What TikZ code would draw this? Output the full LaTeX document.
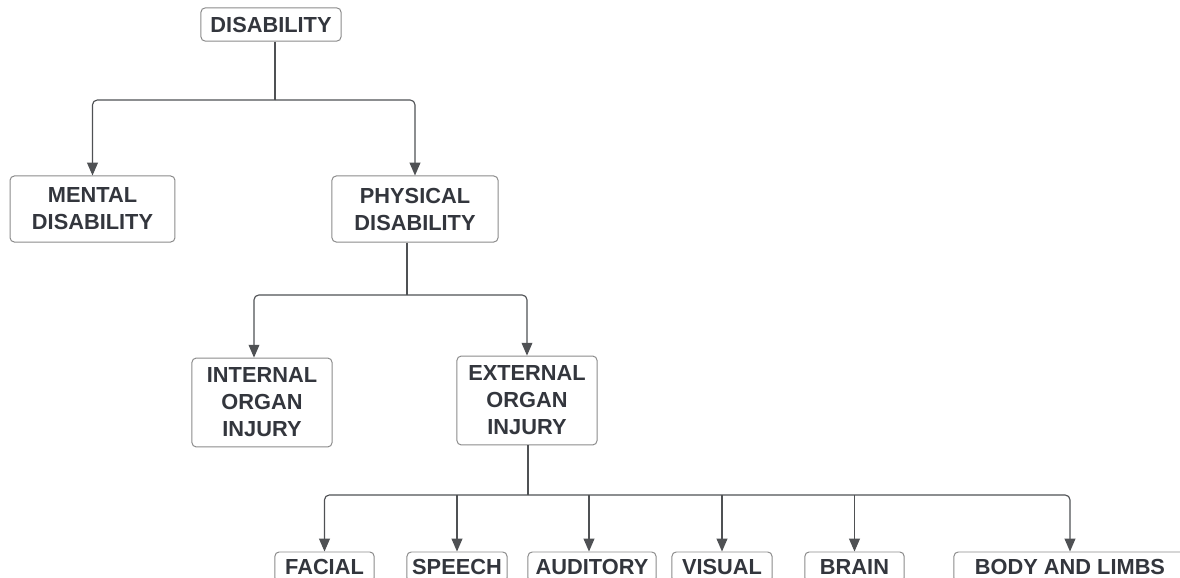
\documentclass[tikz,border=0pt]{standalone}
\usepackage{fontspec}
\setmainfont{Liberation Sans}
\usetikzlibrary{arrows.meta}
\definecolor{boxline}{HTML}{8A8A8A}
\definecolor{wire}{HTML}{4F5154}
\definecolor{ink}{HTML}{33363D}
\begin{document}
\begin{tikzpicture}[
    x=0.025cm, y=-0.025cm,
    box/.style={rectangle, draw=boxline, line width=0.7pt, rounded corners=3pt,
        align=center, inner sep=0pt, text=ink,
        font=\fontsize{15.5}{19.2}\selectfont\bfseries},
    arrow/.style={-{Triangle[length=0.32cm, width=0.27cm]}, draw=wire,
        line width=0.8pt, rounded corners=0.12cm},
    wireline/.style={draw=wire, line width=0.8pt}
]
\useasboundingbox (0,0) rectangle (1180,578);
\clip (0,0) rectangle (1180,578);

% Top level
\node[box, minimum width=3.5cm, minimum height=0.83cm] (dis) at (271,24.5) {DISABILITY};

% Second level
\node[box, minimum width=4.12cm, minimum height=1.65cm] (mental) at (92.5,209) {MENTAL\\DISABILITY};
\node[box, minimum width=4.15cm, minimum height=1.65cm] (physical) at (415,209) {PHYSICAL\\DISABILITY};

% Third level
\node[box, minimum width=3.5cm, minimum height=2.22cm] (internal) at (262,402.5) {INTERNAL\\ORGAN\\INJURY};
\node[box, minimum width=3.5cm, minimum height=2.22cm] (external) at (527,400.5) {EXTERNAL\\ORGAN\\INJURY};

% Bottom level
\node[box, minimum width=2.48cm, minimum height=0.75cm] (facial) at (324.5,567) {FACIAL};
\node[box, minimum width=2.5cm, minimum height=0.75cm] (speech) at (457,567) {SPEECH};
\node[box, minimum width=3.2cm, minimum height=0.75cm] (auditory) at (592,567) {AUDITORY};
\node[box, minimum width=2.5cm, minimum height=0.75cm] (visual) at (722,567) {VISUAL};
\node[box, minimum width=2.48cm, minimum height=0.75cm] (brain) at (854.5,567) {BRAIN};
\node[box, minimum width=5.8cm, minimum height=0.75cm] (body) at (1070,567) {BODY AND LIMBS};

% Junctions
\coordinate (j1) at (275,100);
\coordinate (j2) at (407,295);
\coordinate (j3) at (528,495);

% Disability branches
\draw[wireline] (dis.south -| j1) -- (j1);
\draw[arrow] (j1) -| (mental.north);
\draw[arrow] (j1) -| (physical.north);

% Physical branches
\draw[wireline] (physical.south -| j2) -- (j2);
\draw[arrow] (j2) -| ([xshift=-0.2cm]internal.north);
\draw[arrow] (j2) -| (external.north);

% External branches
\draw[wireline] (external.south -| j3) -- (j3);
\draw[arrow] (j3) -| (facial.north);
\draw[arrow] (j3) -| (body.north);
\foreach \n/\dx in {speech/0, auditory/-0.075cm, visual/0, brain/0} {
    \draw[arrow] ([xshift=\dx]\n.north |- j3) -- ([xshift=\dx]\n.north);
}
\end{tikzpicture}
\end{document}
